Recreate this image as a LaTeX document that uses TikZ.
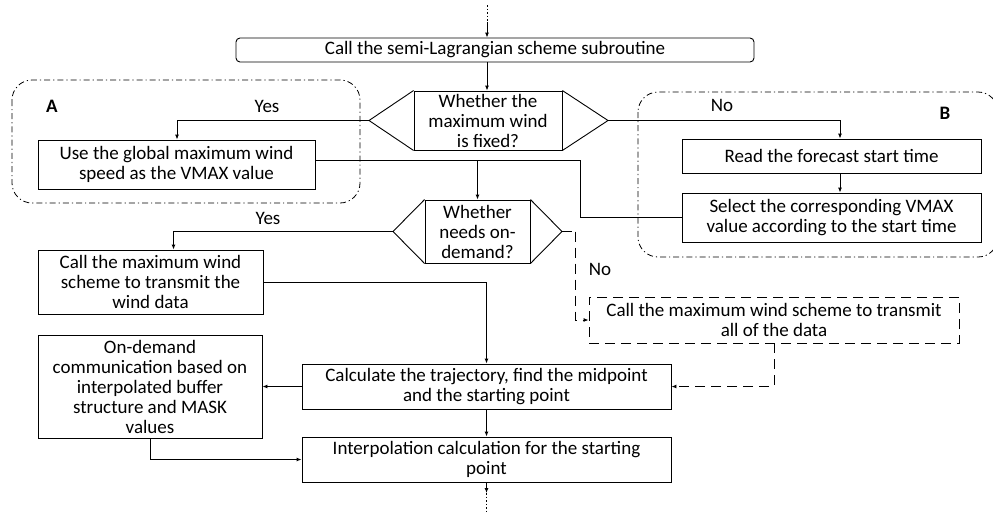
\documentclass[tikz,border=0pt]{standalone}
\usepackage{fontspec}
\setmainfont{Carlito}
\usetikzlibrary{arrows.meta,calc}
\tikzset{
  box/.style={draw, line width=0.9pt, inner sep=0pt, align=center, font=\fontsize{19}{20}\selectfont},
  lbl/.style={inner sep=0pt, font=\fontsize{19}{20}\selectfont},
  conn/.style={line width=0.9pt, -{Latex[length=5pt,width=4pt]}},
  plain/.style={line width=0.9pt},
  dsh/.style={line width=0.9pt, dash pattern=on 10pt off 6pt},
  region/.style={line width=0.8pt, rounded corners=20pt, dash pattern=on 6pt off 3pt on 1.2pt off 3pt},
  dots/.style={line width=0.9pt, dash pattern=on 1.5pt off 2pt}
}
\begin{document}
\begin{tikzpicture}[x=1pt,y=-1pt]
\useasboundingbox (0,0) rectangle (993,512);
% regions
\draw[region] (12,80) rectangle (360,203);
\draw[region] (638,92) rectangle (998,257);
\node[lbl, font=\fontsize{19}{20}\selectfont\bfseries] (lA) at (52,106) {A};
\node[lbl, font=\fontsize{19}{20}\selectfont\bfseries] (lB) at (945,113) {B};
% nodes
\node[box, rounded corners=4pt, minimum width=518pt, minimum height=24pt] (top) at (495,50) {Call the semi-Lagrangian scheme subroutine};
\node[box, minimum width=148pt, minimum height=59pt] (d1) at (488,120.5) {Whether the\\maximum wind\\is fixed?};
\coordinate (d1L) at (369,120.5);
\coordinate (d1R) at (608,120.5);
\draw[plain] (d1.north west) -- (d1L) -- (d1.south west);
\draw[plain] (d1.north east) -- (d1R) -- (d1.south east);
\node[box, minimum width=277pt, minimum height=49pt] (use) at (176.5,164.5) {Use the global maximum wind\\speed as the VMAX value};
\node[box, minimum width=299pt, minimum height=34pt] (read) at (831.5,156) {Read the forecast start time};
\node[box, minimum width=299pt, minimum height=49pt] (sel) at (831.5,217.5) {Select the corresponding VMAX\\value according to the start time};
\node[box, minimum width=105pt, minimum height=63pt] (d2) at (477.5,231.5) {Whether\\needs on-\\demand?};
\coordinate (d2L) at (393,231.5);
\coordinate (d2R) at (562,231.5);
\draw[plain] (d2.north west) -- (d2L) -- (d2.south west);
\draw[plain] (d2.north east) -- (d2R) -- (d2.south east);
\node[box, minimum width=225pt, minimum height=64pt] (cw) at (150.5,282) {Call the maximum wind\\scheme to transmit the\\wind data};
\node[box, dsh, minimum width=370pt, minimum height=46pt] (all) at (774,320) {Call the maximum wind scheme to transmit\\all of the data};
\node[box, minimum width=224pt, minimum height=103pt] (od) at (150,386.5) {On-demand\\communication based on\\interpolated buffer\\structure and MASK\\values};
\node[box, minimum width=369pt, minimum height=45pt] (calc) at (486.5,386.5) {Calculate the trajectory, find the midpoint\\and the starting point};
\node[box, minimum width=369pt, minimum height=45pt] (interp) at (486.5,459.5) {Interpolation calculation for the starting\\point};
% labels
\node[lbl] (y1) at (267,106) {Yes};
\node[lbl] (n1) at (722,105) {No};
\node[lbl] (y2) at (268,218) {Yes};
\node[lbl] (n2) at (600,269) {No};
% connectors
\coordinate (s0) at (487,5);
\coordinate (s1) at (487,22);
\draw[dots] (s0) -- (s1);
\draw[conn] (s1) -- (top.north -| s1);
\draw[conn] (top.south -| s1) -- (d1.north -| s1);
\draw[conn] (d1L) -| ([xshift=0.5pt]use.north);
\draw[conn] (d1R) -| ([xshift=8.5pt]read.north);
\draw[conn] ([xshift=8.5pt]read.south) -- ([xshift=8.5pt]sel.north);
\coordinate (j1) at (580,160);
\draw[plain] (use.east |- j1) -- (j1) |- (sel.west);
\draw[conn] (d2.north |- j1) -- (d2.north);
\draw[conn] (d2L) -| ([xshift=23pt]cw.north);
\draw[conn] (cw.east) -| (calc.north);
\coordinate (j2) at (575,231.5);
\draw[dsh] (d2R) -- (j2);
\draw[dsh, -{Latex[length=5pt,width=4pt]}] (j2) |- (all.west);
\draw[dsh, -{Latex[length=5pt,width=4pt]}] (all.south) |- (calc.east);
\draw[conn] (calc.west) -- (od.east);
\draw[conn] (calc.south) -- (interp.north);
\draw[conn] (od.south) |- (interp.west);
\coordinate (e1) at (486.5,493);
\coordinate (e2) at (486.5,512);
\draw[conn] (interp.south) -- (e1);
\draw[dots] (e1) -- (e2);
\end{tikzpicture}
\end{document}
